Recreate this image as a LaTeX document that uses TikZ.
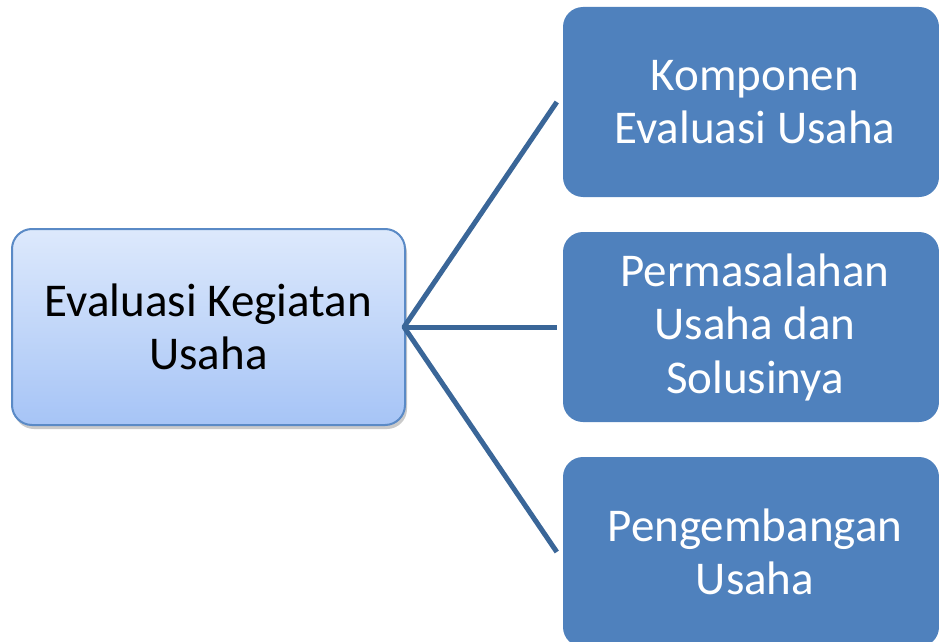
\documentclass[tikz,border=0pt]{standalone}
\usepackage{fontspec}
\setmainfont{Carlito}
\usetikzlibrary{shadows}
\definecolor{boxblue}{HTML}{4F81BD}
\definecolor{linkblue}{HTML}{3A6698}
\definecolor{lighttop}{HTML}{DDE9FC}
\definecolor{lightbot}{HTML}{A6C4F6}
\definecolor{lightedge}{HTML}{5A8AC6}
\tikzset{
  txt/.style={font=\fontsize{47}{53.5}\selectfont, align=center, inner sep=0pt},
  srcbox/.style={txt, rectangle, rounded corners=20pt, draw=lightedge, line width=2pt,
    top color=lighttop, bottom color=lightbot, text=black,
    minimum width=393pt, minimum height=196pt,
    drop shadow={shadow xshift=2pt, shadow yshift=-4pt, opacity=0.35, fill=black!60}},
  tgtbox/.style={txt, rectangle, rounded corners=20pt, fill=boxblue, text=white,
    minimum width=376pt, minimum height=190pt},
  link/.style={draw=linkblue, line width=5pt, line join=round}
}
\begin{document}
\begin{tikzpicture}[x=1pt,y=-1pt]
\useasboundingbox (0,0) rectangle (939,642);
\node[srcbox] (src) at (208.5,327) {Evaluasi Kegiatan\\Usaha};
\node[tgtbox] (k) at (751,102) {\hspace*{8pt}Komponen\\\hspace*{8pt}Evaluasi Usaha};
\node[tgtbox] (p) at (751,327) {\hspace*{8pt}Permasalahan\\\hspace*{8pt}Usaha dan\\\hspace*{8pt}Solusinya};
\node[tgtbox] (d) at (751,552) {\hspace*{8pt}Pengembangan\\\hspace*{8pt}Usaha};
\coordinate (ek) at ([xshift=-6pt]k.west);
\coordinate (ep) at ([xshift=-6pt]p.west);
\coordinate (ed) at ([xshift=-6pt]d.west);
\coordinate (hub) at ([xshift=-2pt]src.east);
\draw[link] (ek) -- (hub) -- (ed);
\draw[link] (hub) -- (ep);
\end{tikzpicture}
\end{document}
